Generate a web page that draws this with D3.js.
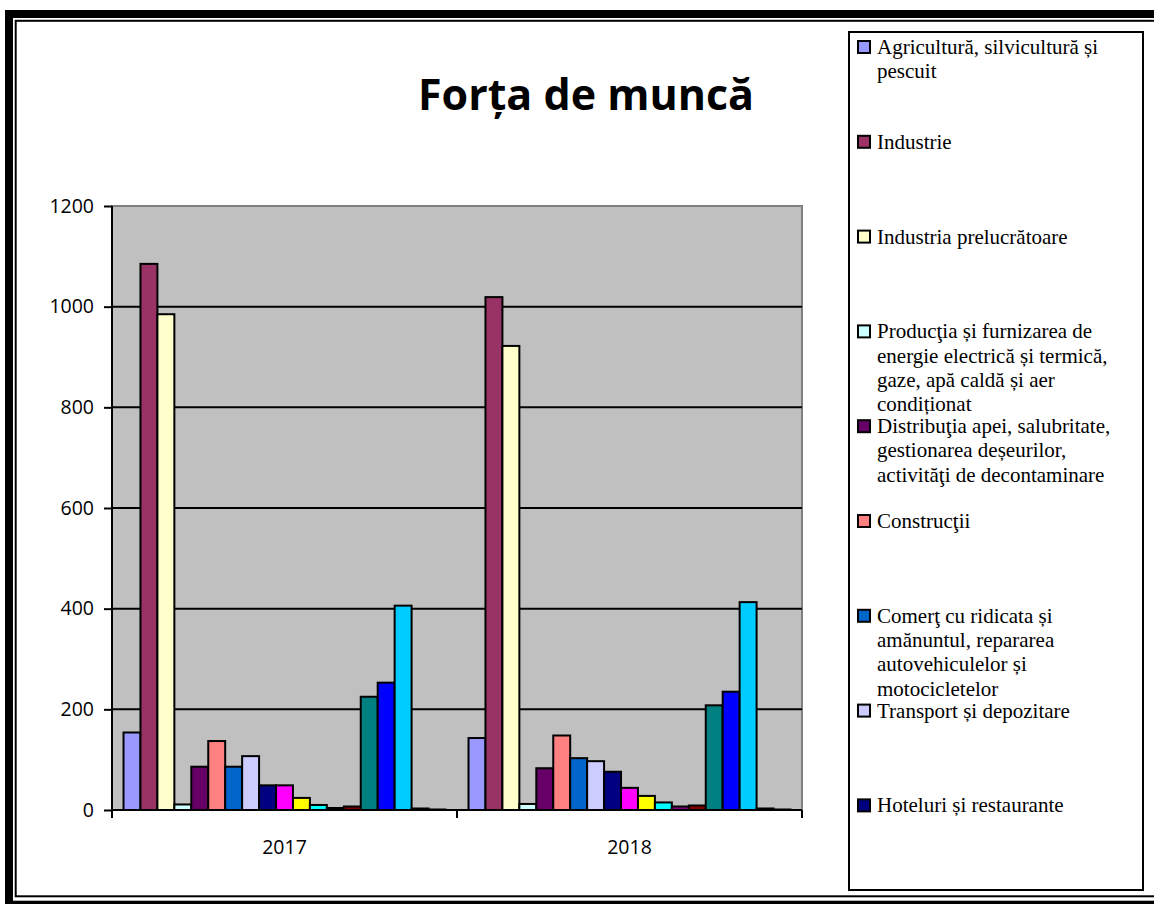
<!DOCTYPE html>
<html>
<head>
<meta charset="utf-8">
<script src="https://cdn.jsdelivr.net/npm/d3@7"></script>
<style>
    body { margin: 0; background: #fff; }
    svg { display: block; }
    .axisLabel { font-family: 'Open Sans', sans-serif; font-size: 19.5px; fill: #000; }
    .legendText { font-family: 'Liberation Serif', 'Times New Roman', serif; font-size: 21px; fill: #000; }
</style>
</head>
<body>
<div class="chart"></div>
<script>
// Data
let years = ['2017', '2018'];

let sectors = [
    'Agricultură, silvicultură și pescuit',
    'Industrie',
    'Industria prelucrătoare',
    'Producţia și furnizarea de energie electrică și termică, gaze, apă caldă și aer condiționat',
    'Distribuţia apei, salubritate, gestionarea deșeurilor, activităţi de decontaminare',
    'Construcţii',
    'Comerţ cu ridicata și amănuntul, repararea autovehiculelor și motocicletelor',
    'Transport și depozitare',
    'Hoteluri și restaurante',
    'Informaţii și comunicaţii',
    'Activităţi financiare și de asigurări',
    'Tranzacţii imobiliare',
    'Activităţi profesionale, știinţifice și tehnice',
    'Activităţi de servicii administrative',
    'Administraţie publică și apărare',
    'Învăţământ',
    'Sănătate și asistenţă socială',
    'Activităţi de spectacole, culturale și recreative',
    'Alte activităţi de servicii'
];

let values2017 = [154, 1085, 985, 11, 86, 137, 86, 107, 49, 49, 24, 10, 4, 7, 225, 253, 406, 3, 1];
let values2018 = [143, 1019, 922, 12, 83, 148, 103, 97, 76, 44, 28, 15, 7, 9, 208, 235, 413, 3, 1];

let colors = ['#9999FF', '#993366', '#FFFFCC', '#CCFFFF', '#660066', '#FF8080', '#0066CC', '#CCCCFF',
    '#000080', '#FF00FF', '#FFFF00', '#00FFFF', '#800080', '#800000', '#008080', '#0000FF',
    '#00CCFF', '#CCFFFF', '#CCFFCC'];

let yTicks = [0, 200, 400, 600, 800, 1000, 1200];

let byYear = { '2017': values2017, '2018': values2018 };

// Set up the page
let width = 1154,
    height = 904,
    plot = { left: 112, right: 802, top: 206, bottom: 810 },
    svg = d3.select('.chart')
        .append('svg')
        .attr('width', width)
        .attr('height', height);

// Page border: thick outside, thin inside
svg.append('rect')
    .attr('x', 9).attr('y', 14)
    .attr('width', 1170).attr('height', 890.7)
    .attr('fill', 'none')
    .attr('stroke', '#000')
    .attr('stroke-width', 8);
svg.append('rect')
    .attr('x', 15.7).attr('y', 20.8)
    .attr('width', 1160).attr('height', 875.5)
    .attr('fill', 'none')
    .attr('stroke', '#000')
    .attr('stroke-width', 2);

// Scales
let x0 = d3.scaleBand()
    .domain(years)
    .range([plot.left, plot.right]);

let x1 = d3.scaleBand()
    .domain(d3.range(sectors.length))
    .range([0, x0.bandwidth()])
    .paddingInner(0)
    .paddingOuter(0.68);

let y = d3.scaleLinear()
    .domain([0, 1200])
    .range([plot.bottom, plot.top]);

// Plot area
svg.append('rect')
    .attr('x', plot.left).attr('y', plot.top)
    .attr('width', plot.right - plot.left)
    .attr('height', plot.bottom - plot.top)
    .attr('fill', '#C0C0C0')
    .attr('stroke', '#808080')
    .attr('stroke-width', 2);

svg.append('g')
    .selectAll('line')
    .data(yTicks.filter((d) => d > 0 && d < 1200))
    .enter().append('line')
    .attr('x1', plot.left).attr('x2', plot.right)
    .attr('y1', (d) => y(d)).attr('y2', (d) => y(d))
    .attr('stroke', '#000')
    .attr('stroke-width', 2);

// Bars
let groups = svg.append('g')
    .selectAll('g')
    .data(years)
    .enter().append('g')
    .attr('transform', (d) => 'translate(' + x0(d) + ',0)');

groups.selectAll('rect')
    .data((yr) => byYear[yr].map((v, i) => ({ i: i, v: v })))
    .enter().append('rect')
    .attr('x', (d) => x1(d.i))
    .attr('y', (d) => y(d.v))
    .attr('width', x1.bandwidth())
    .attr('height', (d) => y(0) - y(d.v))
    .attr('fill', (d) => colors[d.i])
    .attr('stroke', '#000')
    .attr('stroke-width', 2);

// Axes
let yAxis = svg.append('g')
    .attr('transform', 'translate(' + plot.left + ',0)')
    .call(d3.axisLeft(y).tickValues(yTicks).tickFormat(d3.format('d')).tickSize(8).tickPadding(10));

let xAxis = svg.append('g')
    .attr('transform', 'translate(0,' + plot.bottom + ')')
    .call(d3.axisBottom(x0).tickSize(0).tickPadding(30));

// Ticks between the categories
xAxis.selectAll('.boundary')
    .data([plot.left, x0('2018'), plot.right])
    .enter().append('line')
    .attr('class', 'boundary')
    .attr('x1', (d) => d).attr('x2', (d) => d)
    .attr('y1', 0).attr('y2', 8)
    .attr('stroke', '#000')
    .attr('stroke-width', 2);

[yAxis, xAxis].forEach((ax) => {
    ax.select('.domain').attr('stroke', '#000').attr('stroke-width', 2);
    ax.selectAll('.tick line').attr('stroke', '#000').attr('stroke-width', 2);
    ax.selectAll('.tick text')
        .attr('class', 'axisLabel')
        .attr('font-family', null)
        .attr('font-size', null);
});
yAxis.select('.domain').attr('d', 'M0,' + plot.top + 'V' + plot.bottom);
xAxis.select('.domain').attr('d', 'M' + plot.left + ',0H' + plot.right);

// Title
svg.append('text')
    .attr('x', 586)
    .attr('y', 110)
    .attr('text-anchor', 'middle')
    .style('font-family', "'Open Sans', sans-serif")
    .style('font-weight', 700)
    .style('font-size', '43px')
    .text('Forța de muncă');

// Legend box: only the entries that fit in it are shown
let legend = { left: 849, top: 32, right: 1143, bottom: 890, step: 94.8 },
    shown = Math.floor((legend.bottom - legend.top) / legend.step);

svg.append('rect')
    .attr('x', legend.left).attr('y', legend.top)
    .attr('width', legend.right - legend.left)
    .attr('height', legend.bottom - legend.top)
    .attr('fill', '#fff')
    .attr('stroke', '#000')
    .attr('stroke-width', 2);

let items = svg.append('g')
    .selectAll('g')
    .data(sectors.slice(0, shown))
    .enter().append('g')
    .attr('transform', (d, i) => 'translate(0,' + (47 + i * legend.step) + ')');

items.append('rect')
    .attr('x', 858).attr('y', -6)
    .attr('width', 12).attr('height', 12)
    .attr('fill', (d, i) => colors[i])
    .attr('stroke', '#000')
    .attr('stroke-width', 2);

items.append('text')
    .attr('class', 'legendText')
    .attr('x', 877)
    .attr('y', 7)
    .each(function (d) { wrap(d3.select(this), d, 255, 24.3); });

function wrap(text, label, maxWidth, lineHeight) {
    let words = label.split(' '),
        line = [],
        tspan = text.append('tspan').attr('x', 877).attr('dy', 0);
    words.forEach((word) => {
        line.push(word);
        tspan.text(line.join(' '));
        if (tspan.node().getComputedTextLength() > maxWidth && line.length > 1) {
            line.pop();
            tspan.text(line.join(' '));
            line = [word];
            tspan = text.append('tspan')
                .attr('x', 877)
                .attr('dy', lineHeight)
                .text(word);
        }
    });
}
</script>
</body>
</html>
